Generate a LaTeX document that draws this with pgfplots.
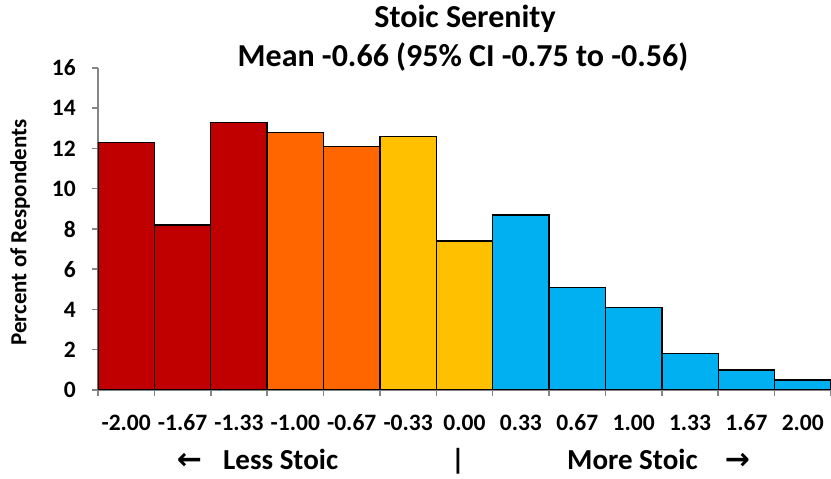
\documentclass[border=0pt]{standalone}
\usepackage{fontspec}
\setmainfont{Carlito}
\newfontfamily\arrowfont{DejaVu Sans}
\usepackage{pgfplots}
\pgfplotsset{compat=1.18}
\definecolor{cred}{HTML}{C00000}
\definecolor{corange}{HTML}{FF6600}
\definecolor{cgold}{HTML}{FFC000}
\definecolor{cblue}{HTML}{00B0F0}
\definecolor{axgray}{HTML}{868686}
\newcommand\tl[1]{\textbf{#1}}
\begin{document}
\begin{tikzpicture}
\useasboundingbox (-98pt,-89pt) rectangle (733pt,390pt);
\begin{axis}[
  at={(0pt,0pt)}, anchor=south west,
  scale only axis, width=733pt, height=322pt,
  xmin=-0.5, xmax=12.5, ymin=0, ymax=16,
  axis lines=left,
  axis line style={draw=axgray, line width=1.5pt, -},
  tick style={draw=axgray, line width=1.5pt},
  tick align=outside, major tick length=6pt,
  xtick={-0.5,0.5,...,12.5},
  xticklabels={\tl{-2.00},\tl{-1.67},\tl{-1.33},\tl{-1.00},\tl{-0.67},\tl{-0.33},\tl{0.00},\tl{0.33},\tl{0.67},\tl{1.00},\tl{1.33},\tl{1.67},\tl{2.00},{}},
  xticklabel style={anchor=base, inner sep=0pt, xshift=28.19pt, yshift=-35pt},
  ytick={0,2,...,16},
  yticklabel style={anchor=east, inner sep=0pt, xshift=-16pt},
  /pgf/number format/assume math mode=true,
  tick label style={font=\bfseries\fontsize{23.5}{28}\selectfont, text=black},
]
\addplot[ybar, bar width=1, bar shift=0pt, fill=cred, draw=black, line width=1.4pt]
  coordinates {(0,12.3)(1,8.2)(2,13.3)};
\addplot[ybar, bar width=1, bar shift=0pt, fill=corange, draw=black, line width=1.4pt]
  coordinates {(3,12.8)(4,12.1)};
\addplot[ybar, bar width=1, bar shift=0pt, fill=cgold, draw=black, line width=1.4pt]
  coordinates {(5,12.6)(6,7.4)};
\addplot[ybar, bar width=1, bar shift=0pt, fill=cblue, draw=black, line width=1.4pt]
  coordinates {(7,8.7)(8,5.1)(9,4.1)(10,1.8)(11,1.0)(12,0.5)};
\end{axis}
\node[anchor=base, font=\bfseries\fontsize{32}{38}\selectfont] at (367pt,362pt) {Stoic Serenity};
\node[anchor=base, font=\bfseries\fontsize{32}{38}\selectfont] at (365pt,323pt) {Mean -0.66 (95\% CI -0.75 to -0.56)};
\node[rotate=90, font=\bfseries\fontsize{23}{26}\selectfont] at (-78pt,157.5pt) {Percent of Respondents};
\node[anchor=base, font=\arrowfont\bfseries\fontsize{30}{34}\selectfont] at (91.5pt,-80pt) {←};
\node[anchor=base west, inner sep=0pt, font=\bfseries\fontsize{29}{33}\selectfont] at (125pt,-80pt) {Less Stoic};
\node[anchor=base, font=\bfseries\fontsize{29}{33}\selectfont] at (360pt,-80pt) {|};
\node[anchor=base west, inner sep=0pt, font=\bfseries\fontsize{29}{33}\selectfont] at (469pt,-80pt) {More Stoic};
\node[anchor=base, font=\arrowfont\bfseries\fontsize{30}{34}\selectfont] at (639.5pt,-80pt) {→};
\end{tikzpicture}
\end{document}
